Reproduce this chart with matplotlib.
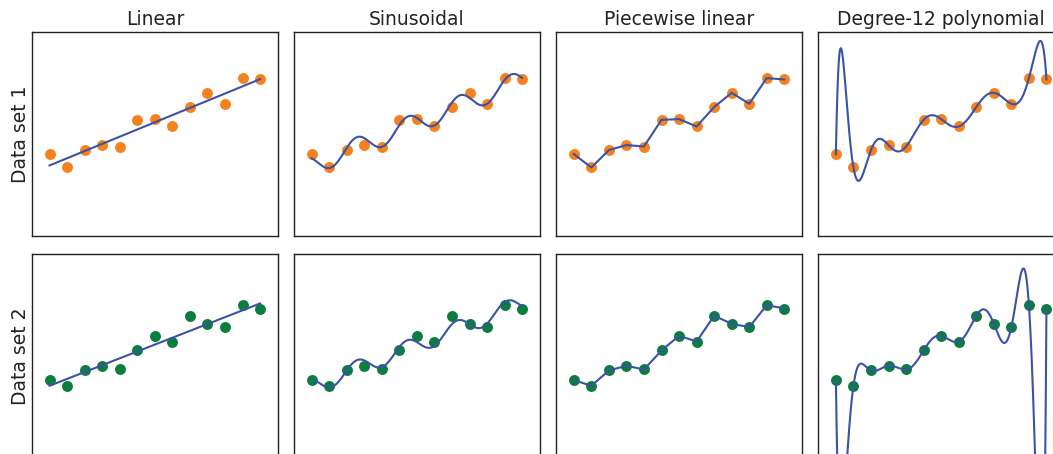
import numpy as np
import matplotlib.pyplot as plt

# data (x = 0..12)
x = np.arange(13)
data_set_1 = [12.06, 10.10, 12.65, 13.38, 13.17, 17.08, 17.18, 16.10, 18.94, 21.03, 19.42, 23.18, 22.98]
data_set_2 = [11.48, 10.64, 12.88, 13.57, 13.03, 15.81, 17.96, 17.12, 20.88, 19.71, 19.23, 22.45, 21.95]
row_labels = ['Data set 1', 'Data set 2']
col_titles = ['Linear', 'Sinusoidal', 'Piecewise linear', 'Degree-12 polynomial']
point_colors = ['#f5821f', '#0b7d3e']
line_color = '#3a53a4'
text_color = '#222222'


def fit_linear(xs, ys, xx):
    coef = np.polyfit(xs, ys, 1)
    return np.polyval(coef, xx)


def fit_sinusoidal(xs, ys, xx):
    # linear trend + sine, frequency picked by least squares grid search
    best = None
    for w in np.linspace(1.5, 3.0, 301):
        A = np.column_stack([np.ones_like(xs, dtype=float), xs, np.sin(w * xs), np.cos(w * xs)])
        c, res, _, _ = np.linalg.lstsq(A, ys, rcond=None)
        err = np.sum((A @ c - ys) ** 2)
        if best is None or err < best[0]:
            best = (err, w, c)
    _, w, c = best
    return c[0] + c[1] * xx + c[2] * np.sin(w * xx) + c[3] * np.cos(w * xx)


def fit_piecewise(xs, ys, xx):
    return np.interp(xx, xs, ys)


def fit_poly12(xs, ys, xx):
    p = np.polynomial.Polynomial.fit(xs, ys, 12)
    return p(xx)


fits = [fit_linear, fit_sinusoidal, fit_piecewise, fit_poly12]

fig, axes = plt.subplots(2, 4, figsize=(10.53, 4.54), dpi=100)
fig.subplots_adjust(left=32 / 1053, right=1064 / 1053, top=1 - 31.5 / 454,
                    bottom=1 - 458.5 / 454, wspace=0.067, hspace=0.083)

xx = np.linspace(0, 12, 600)
for i, ys in enumerate([data_set_1, data_set_2]):
    ys = np.array(ys)
    for j, fit in enumerate(fits):
        ax = axes[i, j]
        ax.scatter(x, ys, s=62, color=point_colors[i], zorder=2, linewidths=0)
        ax.plot(xx, fit(x, ys, xx), color=line_color, lw=1.5, zorder=3)
        ax.set_xlim(-1, 13)
        ax.set_ylim(0, 30)
        ax.set_xticks([])
        ax.set_yticks([])
        for sp in ax.spines.values():
            sp.set_color(text_color)
            sp.set_linewidth(1.0)
        if i == 0:
            ax.set_title(col_titles[j], fontsize=13.5, color=text_color, pad=5)
        if j == 0:
            ax.set_ylabel(row_labels[i], fontsize=13.5, color=text_color, labelpad=1.5)

fig.savefig('out.png', dpi=100)
